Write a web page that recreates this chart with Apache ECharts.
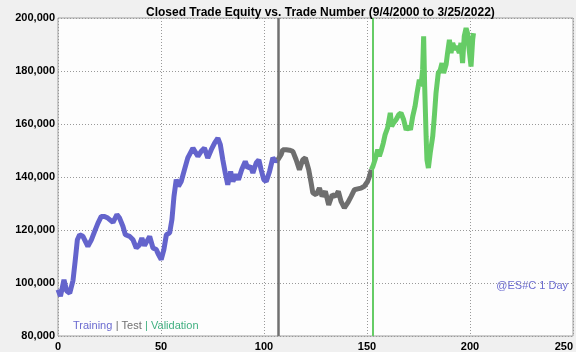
<!DOCTYPE html>
<html>
<head>
<meta charset="utf-8">
<script src="https://cdn.jsdelivr.net/npm/echarts@6/dist/echarts.min.js"></script>
<style>
  html, body { margin: 0; padding: 0; background: #f0f0f0; }
  #chart-container { width: 576px; height: 352px; }
</style>
</head>
<body>
<div id="chart-container"></div>
<script>
var dom = document.getElementById('chart-container');
var myChart = echarts.init(dom, null, { renderer: 'canvas' });

// trade number / equity pairs
var training = [
  [0, 97500], [1.2, 95000], [2.9, 101200], [4.2, 97000], [5.7, 96200], [7.3, 101000],
  [8.4, 108800], [9.4, 116300], [10.5, 118200], [12.1, 117600], [12.9, 118200],
  [14.5, 113800], [16.2, 116300], [17.8, 119500], [19.4, 122600], [21, 125100],
  [22.6, 125100], [24.2, 124500], [26.7, 122900], [28.6, 125800], [29.9, 124500],
  [31.5, 121400], [32.7, 118200], [34.8, 117600], [36.4, 116300], [38, 113200],
  [39.6, 114400], [40.7, 117000], [42, 114100], [44.5, 117600], [46.1, 113200],
  [47.7, 112600], [48.8, 110700], [50.1, 108800], [51.4, 112600], [52.6, 118200],
  [54.2, 118900], [55.3, 123900], [56.3, 132700], [57.4, 139000], [58.5, 136500],
  [59.8, 138300], [61.4, 142800], [63, 147200], [65.5, 150900], [67.9, 147800],
  [69.5, 149700], [71.1, 150900], [72.7, 147200], [74.4, 150300], [76, 152800],
  [77.6, 154700], [78.8, 152200], [80, 146500], [81.2, 141500], [82.4, 137100],
  [83.8, 142100], [84.9, 138300], [86.5, 140900], [87.6, 139000], [89.2, 142800],
  [90.9, 145900], [92.1, 143400], [93.5, 144000], [94.6, 141500], [96.2, 145300],
  [97.5, 146500], [98.6, 142800], [99.9, 139000], [101.1, 138300], [102.7, 142100],
  [104.3, 147200], [105.9, 145900], [106.7, 146500]
];
var test = [
  [106.7, 146500], [107.5, 145900], [108.3, 148400], [109.1, 150300], [110.8, 150300],
  [112.4, 150100], [114, 149700], [115.6, 146500], [117.2, 142800], [118.8, 146500],
  [120.1, 147200], [121.7, 142800], [122.9, 137700], [123.7, 134000], [125.3, 133300],
  [126.9, 135800], [128.2, 132700], [129.8, 134600], [131.4, 129500], [133.1, 133300],
  [134.7, 132700], [136.1, 134600], [137.4, 130800], [139, 128300], [140.6, 130200],
  [142.3, 132700], [143.9, 135200], [145.5, 135500], [147.1, 135800], [148.7, 136500],
  [150.3, 138300], [151.2, 140200], [152.1, 142800]
];
var validation = [
  [152.1, 142800], [152.8, 143900], [153.9, 146500], [155.2, 150300], [156, 147800],
  [156.8, 149700], [157.9, 152800], [158.8, 156000], [160, 158500], [161.3, 164200],
  [162, 159100], [162.9, 160400], [164.1, 161600], [165.4, 163500], [166.5, 164200],
  [167.8, 161600], [169, 157800], [170.1, 159100], [171.1, 157800], [172.2, 162900],
  [173.3, 166600], [174.3, 171700], [175.4, 176700], [176.2, 174200], [177, 180500],
  [177.5, 193100], [178, 174200], [178.7, 155300], [179.1, 146500], [179.8, 143400],
  [180.7, 149100], [181.9, 155300], [182.7, 162900], [183.5, 171700], [184.6, 179200],
  [185.6, 180500], [186.4, 183000], [187.2, 179200], [188.4, 182400], [189.1, 186800],
  [190, 191800], [190.8, 186800], [191.6, 190600], [192.7, 188000], [193.7, 189300],
  [194.8, 186800], [195.6, 190600], [196.4, 183000], [197.2, 193100], [198.1, 196200],
  [198.8, 194300], [199.6, 188000], [200.5, 181700], [201.3, 191800], [201.7, 194300]
];
var testStart = 106.7;
var validationStart = 152.6;
var xTicks = [0, 250, 50];
var yTicks = [80000, 200000, 20000];

function fmt(v) {
  return String(v).replace(/\B(?=(\d{3})+(?!\d))/g, ',');
}

var option = {
  backgroundColor: '#f0f0f0',
  animation: false,
  title: {
    text: 'Closed Trade Equity vs. Trade Number (9/4/2000 to 3/25/2022)',
    left: 141,
    top: 2,
    textStyle: { fontFamily: 'Liberation Sans', fontSize: 12, fontWeight: 'bold', color: '#000' }
  },
  grid: {
    left: 58, right: 2, top: 18, bottom: 16,
    show: true, backgroundColor: '#fdfdfd', borderColor: '#a0a0a0', borderWidth: 1
  },
  xAxis: {
    type: 'value', min: xTicks[0], max: xTicks[1], interval: xTicks[2],
    axisLine: { show: false },
    axisTick: { show: false },
    axisLabel: {
      fontFamily: 'Liberation Sans', fontSize: 11, fontWeight: 'bold', color: '#000',
      margin: 5, alignMaxLabel: 'right'
    },
    splitLine: { lineStyle: { color: '#999', type: [1, 2], width: 1 } }
  },
  yAxis: {
    type: 'value', min: yTicks[0], max: yTicks[1], interval: yTicks[2],
    axisLine: { show: false },
    axisTick: { show: false },
    axisLabel: {
      fontFamily: 'Liberation Sans', fontSize: 11, fontWeight: 'bold', color: '#000',
      margin: 3, formatter: fmt
    },
    splitLine: { lineStyle: { color: '#999', type: [1, 2], width: 1 } }
  },
  graphic: [
    {
      type: 'text', left: 73, top: 320,
      style: {
        text: '{a|Training} {b|| Test} {c|| Validation}',
        rich: {
          a: { fill: '#6b6bd0', fontSize: 11, fontFamily: 'Liberation Sans' },
          b: { fill: '#707070', fontSize: 11, fontFamily: 'Liberation Sans' },
          c: { fill: '#40b080', fontSize: 11, fontFamily: 'Liberation Sans' }
        }
      }
    },
    {
      type: 'text', right: 8, top: 280,
      style: { text: '@ES#C 1 Day', fill: '#6b6bd0', fontSize: 11, fontFamily: 'Liberation Sans' }
    }
  ],
  series: [
    {
      name: 'Training', type: 'line', data: training, showSymbol: false,
      lineStyle: { color: '#6464cc', width: 5, join: 'bevel' }, z: 3
    },
    {
      name: 'Test', type: 'line', data: test, showSymbol: false,
      lineStyle: { color: '#6e6e6e', width: 5, join: 'bevel' }, z: 3,
      markLine: {
        silent: true, symbol: 'none', label: { show: false },
        lineStyle: { color: '#707070', type: 'solid', width: 2.5 },
        data: [{ xAxis: testStart }]
      }
    },
    {
      name: 'Validation', type: 'line', data: validation, showSymbol: false,
      lineStyle: { color: '#66cc66', width: 5, join: 'bevel' }, z: 3,
      markLine: {
        silent: true, symbol: 'none', label: { show: false },
        lineStyle: { color: '#66cc66', type: 'solid', width: 2 },
        data: [{ xAxis: validationStart }]
      }
    }
  ]
};

myChart.setOption(option);
window.addEventListener('resize', myChart.resize);
</script>
</body>
</html>
